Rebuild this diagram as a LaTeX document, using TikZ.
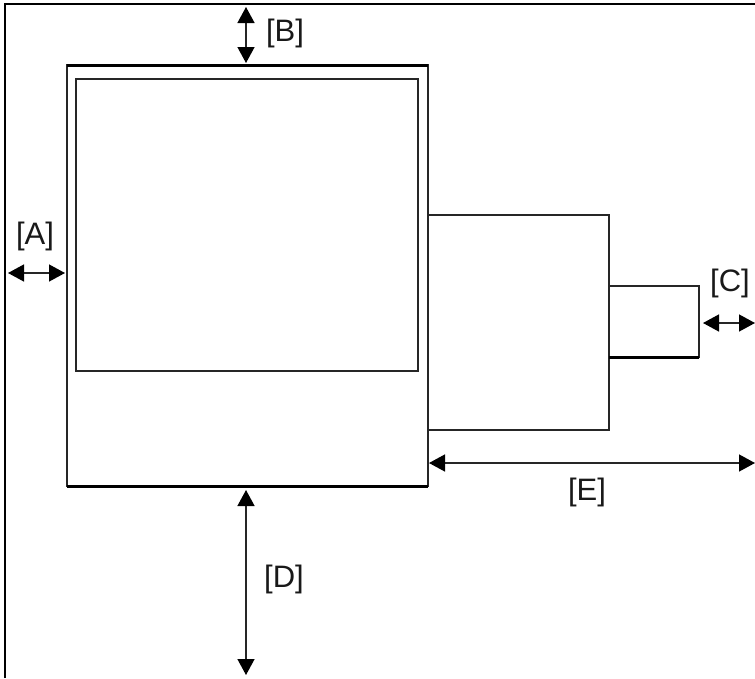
\documentclass[tikz,border=0pt]{standalone}
\usepackage{fontspec}
\setmainfont{Liberation Sans}
\usetikzlibrary{arrows.meta}
\tikzset{
  x=1pt,y=-1pt,
  boxshape/.style={draw=black!85,line width=1.6pt,fill=none,inner sep=0pt,outer sep=0pt,anchor=north west},
  heavy/.style={draw=black,line width=3pt},
  frameline/.style={draw=black,line width=2pt},
  dim/.style={draw=black!85,line width=1.4pt,{Triangle[length=16pt,width=17pt,color=black,fill=black]}-{Triangle[length=16pt,width=17pt,color=black,fill=black]}},
  lbl/.style={font=\fontsize{31}{34}\selectfont,inner sep=0pt,text=black!90}
}
\begin{document}
\begin{tikzpicture}
\useasboundingbox (0,0) rectangle (755,678);
% frame
\coordinate (fbl) at (5,678);
\coordinate (ftl) at (5,3.5);
\coordinate (ftr) at (755,3.5);
\draw[frameline] (fbl) -- (ftl) -- (ftr);
% boxes
\node[boxshape,minimum width=361pt,minimum height=421pt] (outer) at (67,65) {};
\node[boxshape,minimum width=342pt,minimum height=292pt] (inner) at (76,79) {};
\node[boxshape,minimum width=181pt,minimum height=215pt] (mid) at (428,215) {};
\node[boxshape,minimum width=90pt,minimum height=71pt] (small) at (609,286) {};
\draw[heavy] (outer.north west) -- (outer.north east);
\draw[heavy] (outer.south west) -- (outer.south east);
\draw[heavy] (small.south west) -- (small.south east);
% dimension end points
\coordinate (at) at (8,273);
\coordinate (ah) at (65,273);
\coordinate (bt) at (246,7);
\coordinate (bh) at (246,63);
\coordinate (ct) at (703,323);
\coordinate (ch) at (755,323);
\coordinate (dt) at (246,490);
\coordinate (dh) at (246,675);
\coordinate (et) at (429,463);
\coordinate (eh) at (755,463);
\draw[dim] (at) -- (ah);
\draw[dim] (bt) -- (bh);
\draw[dim] (ct) -- (ch);
\draw[dim] (dt) -- (dh);
\draw[dim] (et) -- (eh);
% labels
\node[lbl] (la) at (35,236) {[A]};
\node[lbl] (lb) at (285,33) {[B]};
\node[lbl] (lc) at (730,283) {[C]};
\node[lbl] (ld) at (284,579) {[D]};
\node[lbl] (le) at (587,492) {[E]};
\end{tikzpicture}
\end{document}
